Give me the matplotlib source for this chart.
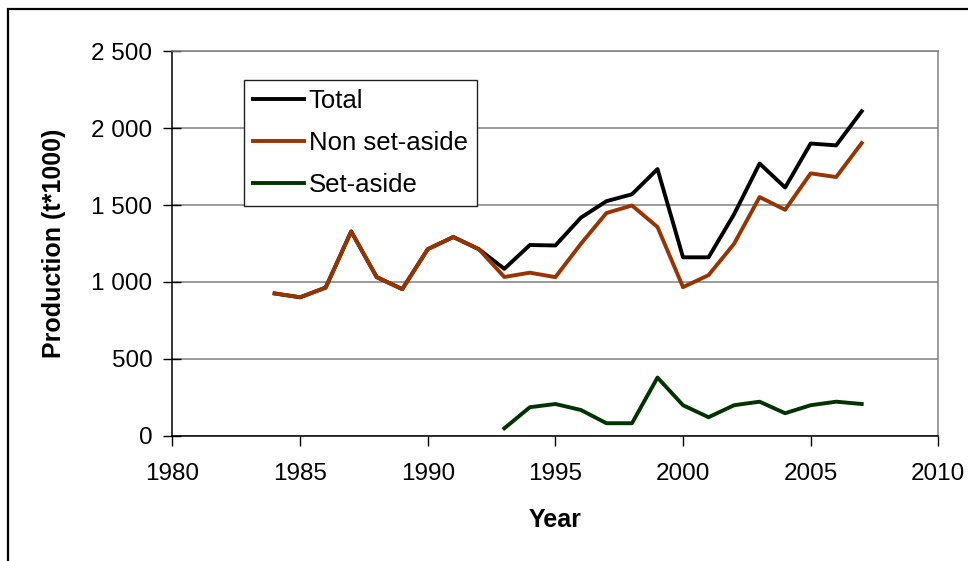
import matplotlib.pyplot as plt
from matplotlib.patches import Rectangle
from matplotlib.ticker import FuncFormatter, MultipleLocator

plt.rcParams['font.family'] = ['Liberation Sans', 'DejaVu Sans']

# production in thousand tonnes
years = list(range(1984, 2008))
total = [925, 900, 963, 1328, 1031, 953, 1213, 1292, 1213, 1085, 1240, 1237,
         1418, 1525, 1570, 1734, 1160, 1160, 1440, 1770, 1614, 1900, 1888, 2110]
non_set_aside = [925, 900, 963, 1328, 1031, 953, 1213, 1292, 1213, 1032, 1060, 1031,
                 1248, 1448, 1497, 1357, 966, 1044, 1248, 1552, 1469, 1706, 1682, 1903]
set_aside_years = list(range(1993, 2008))
set_aside = [48, 185, 206, 167, 81, 81, 378, 198, 120, 198, 221, 146, 198, 221, 206]

fig = plt.figure(figsize=(9.68, 5.61), dpi=100)
ax = fig.add_axes([0.1782, 0.2234, 0.7911, 0.6852])

ax.plot(years, total, color='black', lw=2.8, label='Total', zorder=3)
ax.plot(years, non_set_aside, color='#993300', lw=2.8, label='Non set-aside', zorder=4)
ax.plot(set_aside_years, set_aside, color='#003300', lw=2.8, label='Set-aside', zorder=4)

ax.set_xlim(1980, 2010)
ax.set_ylim(0, 2500)
ax.xaxis.set_major_locator(MultipleLocator(5))
ax.yaxis.set_major_locator(MultipleLocator(500))
ax.yaxis.set_major_formatter(FuncFormatter(lambda v, p: f'{int(v):,}'.replace(',', ' ')))

ax.grid(axis='y', color='#808080', lw=1.1)
ax.set_axisbelow(True)
for side in ['left', 'bottom']:
    ax.spines[side].set_color('black')
    ax.spines[side].set_linewidth(1.1)
for side in ['right', 'top']:
    ax.spines[side].set_color('#808080')
    ax.spines[side].set_linewidth(1.1)

ax.tick_params(axis='x', direction='out', length=7, width=1, labelsize=17.5, pad=13)
ax.tick_params(axis='y', direction='inout', length=13, width=1, labelsize=17.5, pad=8)

ax.set_xlabel('Year', fontsize=18, fontweight='bold', labelpad=16)
ax.set_ylabel('Production (t*1000)', fontsize=18, fontweight='bold', labelpad=18)

leg = ax.legend(loc='upper left', bbox_to_anchor=(0.094, 0.926), fontsize=18.5,
                frameon=True, fancybox=False, framealpha=1, edgecolor='#202020',
                handlelength=1.95, handletextpad=0.2, borderpad=0.35,
                labelspacing=0.7, borderaxespad=0)
leg.get_frame().set_linewidth(1.0)
leg.set_zorder(5)

# outer chart border
fig.patches.append(Rectangle((8 / 968, -0.1), 1.2, 1.1 - 9.5 / 561,
                             transform=fig.transFigure, fill=False,
                             edgecolor='black', lw=1.6))

fig.savefig('out.png', dpi=100)
